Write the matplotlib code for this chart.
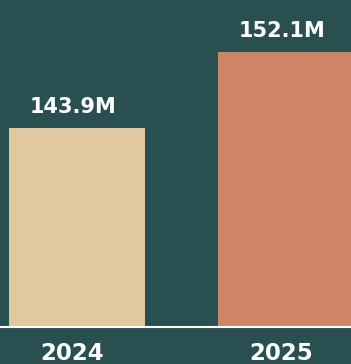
import matplotlib.pyplot as plt
import matplotlib.transforms as mtransforms

years = ['2024', '2025']
values = [143.9, 152.1]
labels = ['143.9M', '152.1M']
colors = ['#e0c9a0', '#d08466']

bg = '#2a4f51'

fig = plt.figure(figsize=(3.51, 3.64), dpi=100, facecolor=bg)
ax = fig.add_axes([0, 37 / 364, 1, 327 / 364])
ax.set_facecolor(bg)

x = [0, 1]
ax.bar(x, values, width=0.65, color=colors, bottom=0)
ax.set_xlim(-0.368, 1.311)
ax.set_ylim(122.4, 157.7)

for xi, v, lab in zip(x, values, labels):
    ax.annotate(lab, (xi, v), xytext=(-4, 11), textcoords='offset pixels',
                ha='center', va='bottom', color='white', fontsize=15,
                fontweight='bold', family='DejaVu Sans')

for s in ['top', 'left', 'right']:
    ax.spines[s].set_visible(False)
ax.spines['bottom'].set_color('white')
ax.spines['bottom'].set_linewidth(1.5)

ax.set_yticks([])
ax.set_xticks(x)
ax.set_xticklabels(years, color='white', fontsize=16.5, fontweight='bold')
ax.tick_params(axis='x', length=0, pad=10)
# labels sit a little left of bar centres in the original
shift = mtransforms.ScaledTranslation(-5 / 100, -1 / 100, fig.dpi_scale_trans)
for t in ax.get_xticklabels():
    t.set_transform(t.get_transform() + shift)

fig.savefig('out.png', dpi=100, facecolor=bg)
